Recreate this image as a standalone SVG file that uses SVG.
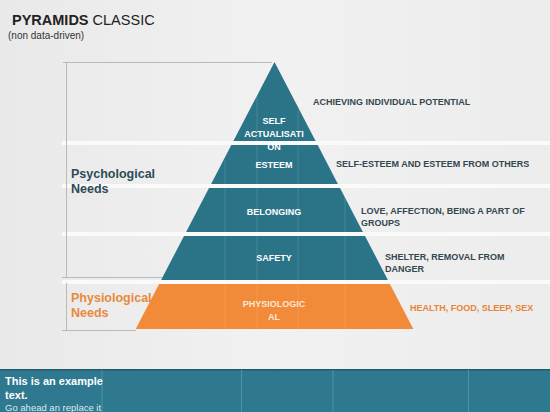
<svg xmlns="http://www.w3.org/2000/svg" width="550" height="412" viewBox="0 0 550 412">
<defs>
<linearGradient id="bg" x1="0" y1="0" x2="1" y2="0">
<stop offset="0" stop-color="#e9e9e9"/>
<stop offset="0.5" stop-color="#f1f1f1"/>
<stop offset="1" stop-color="#ececec"/>
</linearGradient>
</defs>
<style>
.teal{fill:#2b7488}
.orange{fill:#f18b3a}
.lbl{font-family:"Liberation Sans",Arial,sans-serif;font-weight:bold;font-size:9px;fill:#ffffff;text-anchor:middle}
.olbl{font-family:"Liberation Sans",Arial,sans-serif;font-weight:bold;font-size:9px;fill:#fbe6d2;text-anchor:middle}
.desc{font-family:"Liberation Sans",Arial,sans-serif;font-weight:bold;font-size:9px;fill:#34474f}
.odesc{font-family:"Liberation Sans",Arial,sans-serif;font-weight:bold;font-size:9px;fill:#e8843a}
.side{font-family:"Liberation Sans",Arial,sans-serif;font-weight:bold;font-size:12.5px}
.band{fill:#fafafa}
.br{stroke:#b9b9b9;stroke-width:1;fill:none}
.vl{stroke:#ffffff;stroke-opacity:0.12;stroke-width:1}
</style>
<rect width="550" height="412" fill="url(#bg)"/>
<rect x="62" y="141" width="488" height="4" class="band"/>
<rect x="62" y="184" width="488" height="4" class="band"/>
<rect x="62" y="232" width="488" height="4" class="band"/>
<rect x="62" y="280" width="488" height="4" class="band"/>

<g id="title">
<text x="12" y="25" font-family="Liberation Sans,Arial,sans-serif" font-size="14.5" fill="#222"><tspan font-weight="bold">PYRAMIDS</tspan> CLASSIC</text>
<text x="8" y="39" font-family="Liberation Sans,Arial,sans-serif" font-size="10" fill="#333">(non data-driven)</text>
</g>

<g id="connectors">
<path class="br" d="M63 62.5 H272"/>
<path class="br" d="M66.5 62 V277"/>
<path class="br" d="M62 277.5 H162"/>
<path class="br" d="M66.5 283 V330"/>
<path class="br" d="M62 330.5 H136"/>
</g>

<g id="tier-self-actualisation">
<polygon class="teal" points="274.5,62 315.6,141 233.4,141"/>
<text class="desc" x="313" y="105">ACHIEVING INDIVIDUAL POTENTIAL</text>
</g>
<g id="tier-esteem">
<polygon class="teal" points="231.3,145 317.7,145 337.9,184 211.1,184"/>
<text class="lbl" x="274" y="168">ESTEEM</text>
<text class="desc" x="336" y="167">SELF-ESTEEM AND ESTEEM FROM OTHERS</text>
</g>
<g id="tier-belonging">
<polygon class="teal" points="209,188 340,188 362.9,232 186.1,232"/>
<text class="lbl" x="274" y="215">BELONGING</text>
<text class="desc" x="361" y="214">LOVE, AFFECTION, BEING A PART OF</text>
<text class="desc" x="361" y="226">GROUPS</text>
</g>
<g id="tier-safety">
<polygon class="teal" points="184,236 365,236 387.9,280 161.1,280"/>
<text class="lbl" x="274" y="261">SAFETY</text>
<text class="desc" x="385" y="260">SHELTER, REMOVAL FROM</text>
<text class="desc" x="385" y="272">DANGER</text>
</g>
<g id="tier-physiological">
<polygon class="orange" points="159.1,284 389.9,284 413.3,329 135.7,329"/>
<text class="olbl" x="274" y="307">PHYSIOLOGIC</text>
<text class="olbl" x="274" y="320">AL</text>
<text class="odesc" x="410" y="311">HEALTH, FOOD, SLEEP, SEX</text>
</g>
<g id="pyramid-grid">
<line class="vl" x1="257" y1="90" x2="257" y2="329"/>
<line class="vl" x1="298" y1="110" x2="298" y2="329"/>
<line class="vl" x1="225" y1="160" x2="225" y2="329"/>
<line class="vl" x1="345" y1="190" x2="345" y2="329"/>
</g>
<g id="self-label">
<text class="lbl" x="274" y="124">SELF</text>
<text class="lbl" x="274" y="137">ACTUALISATI</text>
<text class="lbl" x="274" y="150">ON</text>
</g>

<g id="psychological-needs">
<text class="side" x="71" y="178" fill="#2c4b57">Psychological</text>
<text class="side" x="71" y="193" fill="#2c4b57">Needs</text>
</g>
<g id="physiological-needs">
<text class="side" x="71" y="302" fill="#e8893a">Physiological</text>
<text class="side" x="71" y="317" fill="#e8893a">Needs</text>
</g>

<g id="footer">
<rect x="0" y="369" width="550" height="43" fill="#2e7890"/>
<rect x="0" y="369" width="550" height="1.5" fill="#24596a"/>
<line x1="102" y1="370" x2="102" y2="412" stroke="#4e93a8" stroke-width="1"/>
<line x1="241.5" y1="370" x2="241.5" y2="412" stroke="#4e93a8" stroke-width="1"/>
<line x1="333" y1="370" x2="333" y2="412" stroke="#4e93a8" stroke-width="1"/>
<line x1="468.5" y1="370" x2="468.5" y2="412" stroke="#4e93a8" stroke-width="1"/>
<text x="5" y="385" font-family="Liberation Sans,Arial,sans-serif" font-weight="bold" font-size="11" fill="#ffffff">This is an example</text>
<text x="5" y="399" font-family="Liberation Sans,Arial,sans-serif" font-weight="bold" font-size="11" fill="#ffffff">text.</text>
<text x="5" y="411" font-family="Liberation Sans,Arial,sans-serif" font-size="9.5" fill="#d9ecf2">Go ahead an replace it</text>
</g>
</svg>
